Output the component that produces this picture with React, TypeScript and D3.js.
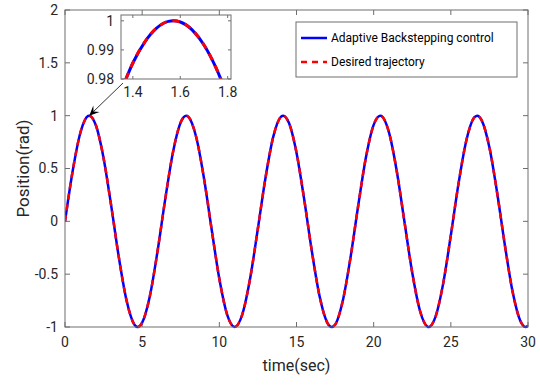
import * as d3 from 'd3';

// sampled from the figure: tracked position (rad) vs time (sec)
const timeSec = [
  0, 0.5, 1.0, 1.5, 1.571, 2.0, 2.5, 3.0, 3.5, 4.0, 4.5, 4.712, 5.0, 5.5, 6.0, 6.5, 7.0, 7.5, 7.854,
  8.0, 8.5, 9.0, 9.5, 10.0, 10.5, 10.996, 11.5, 12.0, 12.5, 13.0, 13.5, 14.0, 14.137, 14.5, 15.0,
  15.5, 16.0, 16.5, 17.0, 17.279, 17.5, 18.0, 18.5, 19.0, 19.5, 20.0, 20.42, 20.5, 21.0, 21.5, 22.0,
  22.5, 23.0, 23.5, 23.562, 24.0, 24.5, 25.0, 25.5, 26.0, 26.5, 26.704, 27.0, 27.5, 28.0, 28.5,
  29.0, 29.5, 29.845, 30.0,
];
const positionRad = [
  0, 0.479, 0.841, 0.997, 1, 0.909, 0.598, 0.141, -0.351, -0.757, -0.978, -1, -0.959, -0.706, -0.279,
  0.215, 0.657, 0.938, 1, 0.989, 0.798, 0.412, -0.075, -0.544, -0.88, -1, -0.875, -0.537, -0.066,
  0.42, 0.804, 0.991, 1, 0.935, 0.65, 0.206, -0.288, -0.712, -0.961, -1, -0.978, -0.751, -0.342,
  0.15, 0.606, 0.913, 1, 0.997, 0.837, 0.472, -0.009, -0.487, -0.846, -0.998, -1, -0.906, -0.592,
  -0.132, 0.359, 0.763, 0.98, 1, 0.956, 0.699, 0.271, -0.224, -0.664, -0.941, -1, -0.988,
];

// zoomed-in first peak
const zoomTime = [1.35, 1.4, 1.45, 1.5, 1.55, 1.571, 1.6, 1.65, 1.7, 1.75, 1.8];
const zoomPosition = [0.9757, 0.9855, 0.9927, 0.9975, 0.9998, 1.0, 0.9996, 0.9969, 0.9917, 0.984, 0.9739];

const xTicks = [0, 5, 10, 15, 20, 25, 30];
const yTicks = [-1, -0.5, 0, 0.5, 1, 1.5, 2];
const zoomXTicks = [1.4, 1.6, 1.8];
const zoomYTicks = [0.98, 0.99, 1];
const legendLabels = ['Adaptive Backstepping control', 'Desired trajectory'];

const W = 540;
const H = 385;
const plot = { left: 65, right: 528, top: 10, bottom: 327 };
const inset = { left: 121, right: 231, top: 15, bottom: 79 };
const legend = { left: 296, right: 517, top: 22, bottom: 77 };

const font = 'Roboto, "Noto Sans", sans-serif';
const axisColor = '#6e6e6e';
const textColor = '#262626';
const blue = '#0000ff';
const red = '#ff0000';

export default function App() {
  const x = d3.scaleLinear().domain([0, 30]).range([plot.left, plot.right]);
  const y = d3.scaleLinear().domain([-1, 2]).range([plot.bottom, plot.top]);

  const zx = d3.scaleLinear().domain([1.35, 1.814]).range([inset.left, inset.right]);
  const zy = d3.scaleLinear().domain([0.98, 1.002]).range([inset.bottom, inset.top]);

  const pts = timeSec.map((t, i) => [t, positionRad[i]] as [number, number]);
  const zpts = zoomTime.map((t, i) => [t, zoomPosition[i]] as [number, number]);

  const line = d3.line<[number, number]>().x(d => x(d[0])).y(d => y(d[1])).curve(d3.curveMonotoneX);
  const zline = d3.line<[number, number]>().x(d => zx(d[0])).y(d => zy(d[1])).curve(d3.curveMonotoneX);

  const mainPath = line(pts) || '';
  const zoomPath = zline(zpts) || '';

  // arrow from inset corner to the first peak
  const ax0 = inset.left + 2;
  const ay0 = inset.bottom + 4;
  const ax1 = x(1.571);
  const ay1 = y(1);
  const ang = Math.atan2(ay1 - ay0, ax1 - ax0);
  const hl = 10;
  const hw = 4.5;
  const bx = ax1 - hl * Math.cos(ang);
  const by = ay1 - hl * Math.sin(ang);
  const nx = Math.cos(ang + Math.PI / 2);
  const ny = Math.sin(ang + Math.PI / 2);
  const ix = ax1 - hl * 0.6 * Math.cos(ang);
  const iy = ay1 - hl * 0.6 * Math.sin(ang);
  const head = `M${ax1},${ay1}L${bx + nx * hw},${by + ny * hw}L${ix},${iy}L${bx - nx * hw},${by - ny * hw}Z`;

  const tl = 5;
  const ztl = 3;

  return (
    <svg
      width={W}
      height={H}
      style={{ position: 'absolute', left: 0, top: 0, background: '#fff' }}
      fontFamily={font}
    >
      <defs>
        <clipPath id="plotClip">
          <rect x={plot.left} y={plot.top - 3} width={plot.right - plot.left} height={plot.bottom - plot.top + 6} />
        </clipPath>
        <clipPath id="insetClip">
          <rect x={inset.left} y={inset.top} width={inset.right - inset.left} height={inset.bottom - inset.top} />
        </clipPath>
      </defs>

      {/* axis ticks (inside, mirrored) */}
      {xTicks.map(t => (
        <g key={'xt' + t}>
          <line x1={x(t)} x2={x(t)} y1={plot.bottom} y2={plot.bottom - tl} stroke={axisColor} />
          <line x1={x(t)} x2={x(t)} y1={plot.top} y2={plot.top + tl} stroke={axisColor} />
          <text x={x(t)} y={plot.bottom + 20} textAnchor="middle" fontSize={14} fill={textColor}>
            {t}
          </text>
        </g>
      ))}
      {yTicks.map(t => (
        <g key={'yt' + t}>
          <line x1={plot.left} x2={plot.left + tl} y1={y(t)} y2={y(t)} stroke={axisColor} />
          <line x1={plot.right} x2={plot.right - tl} y1={y(t)} y2={y(t)} stroke={axisColor} />
          <text x={plot.left - 7} y={y(t)} dy="0.35em" textAnchor="end" fontSize={14} fill={textColor}>
            {t}
          </text>
        </g>
      ))}

      {/* curves */}
      <g clipPath="url(#plotClip)">
        <path d={mainPath} fill="none" stroke={blue} strokeWidth={2.5} />
        <path d={mainPath} fill="none" stroke={red} strokeWidth={2.5} strokeDasharray="6 5" />
      </g>

      {/* axes box */}
      <rect
        x={plot.left}
        y={plot.top}
        width={plot.right - plot.left}
        height={plot.bottom - plot.top}
        fill="none"
        stroke={axisColor}
        strokeWidth={1}
      />

      {/* axis titles */}
      <text x={(plot.left + plot.right) / 2} y={371} textAnchor="middle" fontSize={16} fill={textColor}>
        time(sec)
      </text>
      <text
        transform={`translate(29,${(plot.top + plot.bottom) / 2}) rotate(-90)`}
        textAnchor="middle"
        fontSize={17}
        fill={textColor}
      >
        Position(rad)
      </text>

      {/* arrow */}
      <line x1={ax0} y1={ay0} x2={ix} y2={iy} stroke="#000" strokeWidth={0.8} />
      <path d={head} fill="#000" />

      {/* inset */}
      <rect
        x={inset.left}
        y={inset.top}
        width={inset.right - inset.left}
        height={inset.bottom - inset.top}
        fill="#fff"
      />
      <g clipPath="url(#insetClip)">
        <path d={zoomPath} fill="none" stroke={blue} strokeWidth={3} />
        <path d={zoomPath} fill="none" stroke={red} strokeWidth={3} strokeDasharray="7 6" />
      </g>
      {zoomXTicks.map(t => (
        <g key={'zx' + t}>
          <line x1={zx(t)} x2={zx(t)} y1={inset.bottom} y2={inset.bottom - ztl} stroke={axisColor} />
          <line x1={zx(t)} x2={zx(t)} y1={inset.top} y2={inset.top + ztl} stroke={axisColor} />
          <text x={zx(t)} y={inset.bottom + 18} textAnchor="middle" fontSize={14} fill={textColor}>
            {t}
          </text>
        </g>
      ))}
      {zoomYTicks.map(t => (
        <g key={'zy' + t}>
          <line x1={inset.left} x2={inset.left + ztl} y1={zy(t)} y2={zy(t)} stroke={axisColor} />
          <line x1={inset.right} x2={inset.right - ztl} y1={zy(t)} y2={zy(t)} stroke={axisColor} />
          <text x={inset.left - 7} y={zy(t)} dy="0.35em" textAnchor="end" fontSize={14} fill={textColor}>
            {t}
          </text>
        </g>
      ))}
      <rect
        x={inset.left}
        y={inset.top}
        width={inset.right - inset.left}
        height={inset.bottom - inset.top}
        fill="none"
        stroke={axisColor}
      />

      {/* legend */}
      <rect
        x={legend.left}
        y={legend.top}
        width={legend.right - legend.left}
        height={legend.bottom - legend.top}
        fill="#fff"
        stroke={axisColor}
      />
      {legendLabels.map((lab, i) => {
        const ly = legend.top + 16 + i * 24;
        return (
          <g key={lab}>
            <line
              x1={legend.left + 5}
              x2={legend.left + 31}
              y1={ly}
              y2={ly}
              stroke={i === 0 ? blue : red}
              strokeWidth={2.5}
              strokeDasharray={i === 0 ? undefined : '6 5'}
            />
            <text x={legend.left + 35} y={ly} dy="0.35em" fontSize={12} fill="#000">
              {lab}
            </text>
          </g>
        );
      })}
    </svg>
  );
}
